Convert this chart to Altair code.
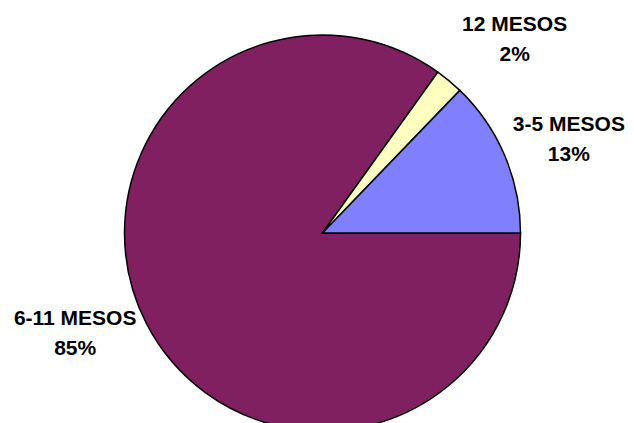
import math
import altair as alt
import pandas as pd

categories = ["6-11 MESOS", "12 MESOS", "3-5 MESOS"]
values = [84.9, 2.3, 12.8]
colors = ["#802060", "#FFFFC0", "#8080FF"]

df = pd.DataFrame({
    "cat": categories,
    "val": values,
    "idx": list(range(len(categories))),
    "name": categories,
    "pct": [f"{round(v)}%" for v in values],
})
df["label"] = df["name"] + "\n" + df["pct"]

total = float(sum(values))
start = math.pi / 2
cx, cy = 314.5, 225
theta_range = [start, start + 2 * math.pi]

pie = alt.Chart(df).mark_arc(stroke="black", strokeWidth=1.5, radius=198).encode(
    theta=alt.Theta("val:Q", stack=True, scale=alt.Scale(range=theta_range)),
    order=alt.Order("idx:Q"),
    color=alt.Color("cat:N", scale=alt.Scale(domain=categories, range=colors), legend=None),
    x=alt.value(cx),
    y=alt.value(cy),
)

# label placement (angular offset in radians from slice middle, distance from centre)
placement = {
    "6-11 MESOS": (0.138, 262),
    "12 MESOS": (0.052, 283),
    "3-5 MESOS": (-0.011, 269),
}


def label_layer(cat):
    dtheta, r = placement[cat]
    return (
        alt.Chart(df)
        .transform_window(cum="sum(val)", sort=[alt.SortField("idx")], frame=[None, 0])
        .transform_calculate(mid="datum.cum - datum.val / 2")
        .transform_filter(alt.datum.cat == cat)
        .mark_text(
            radius=r, thetaOffset=dtheta, align="center", baseline="middle",
            lineBreak="\n", lineHeight=30,
            font="Liberation Sans", fontSize=21, fontWeight="bold", color="black",
        )
        .encode(
            theta=alt.Theta("mid:Q", scale=alt.Scale(domain=[0, total], range=theta_range)),
            text="label:N",
            x=alt.value(cx),
            y=alt.value(cy),
        )
    )


layers = [pie] + [label_layer(c) for c in categories]

chart = alt.layer(*layers).resolve_scale(theta="independent").properties(
    width=618, height=415, padding=0,
    autosize=alt.AutoSizeParams(type="none"),
).configure_view(stroke=None)

chart.save("out.html", embed_options={"renderer": "svg", "actions": False})
